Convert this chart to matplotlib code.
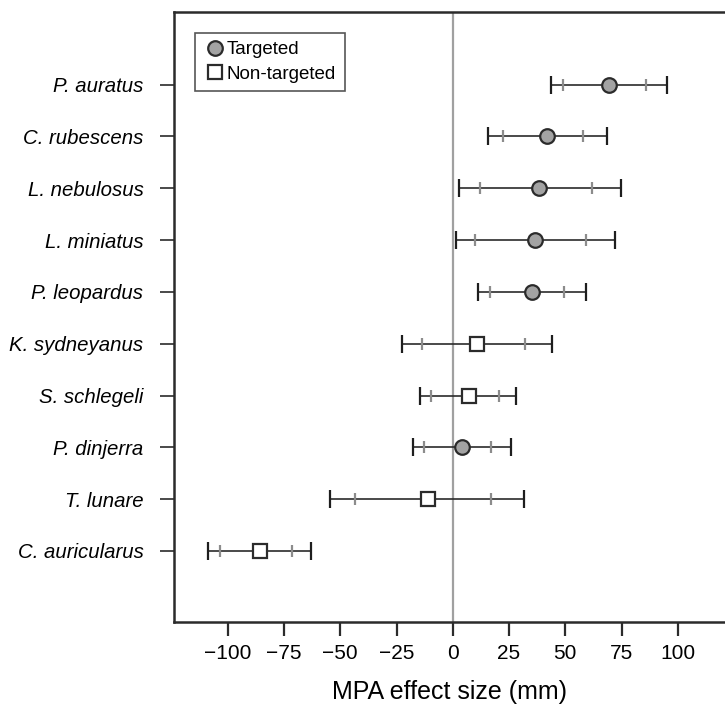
import numpy as np
import matplotlib
matplotlib.use("Agg")
import matplotlib.pyplot as plt
from matplotlib.lines import Line2D

plt.rcParams['font.family'] = ['Liberation Sans', 'DejaVu Sans']

species = ["P. auratus", "C. rubescens", "L. nebulosus", "L. miniatus", "P. leopardus",
           "K. sydneyanus", "S. schlegeli", "P. dinjerra", "T. lunare", "C. auricularus"]
targeted = [True, True, True, True, True, False, False, True, False, False]
effect = [69.6, 41.9, 38.4, 36.6, 35.4, 10.8, 7.2, 4.0, -10.9, -85.7]
outer_lo = [43.7, 15.7, 2.8, 1.3, 11.1, -22.4, -14.6, -17.6, -54.4, -108.8]
outer_hi = [95.2, 68.7, 74.7, 72.0, 59.1, 44.1, 28.0, 25.9, 31.8, -63.0]
inner_lo = [49.0, 22.4, 12.1, 9.9, 16.6, -13.6, -9.6, -12.8, -43.5, -103.5]
inner_hi = [85.9, 57.9, 61.9, 59.1, 49.5, 32.1, 20.6, 17.0, 16.9, -71.3]

dark = "#2b2b2b"
grey_fill = "#a3a3a3"
tick_grey = "#8c8c8c"

fig = plt.figure(figsize=(7.25, 7.07), dpi=100)
ax = fig.add_axes([174/725, 1-622/707, (725-174)/725, (622-12)/707])

ypos = np.arange(len(species), 0, -1)

ax.axvline(0, color="#a0a0a0", lw=1.6, zorder=1)

for i, y in enumerate(ypos):
    ax.plot([outer_lo[i], outer_hi[i]], [y, y], color=dark, lw=1.2, zorder=2)
    ax.plot([outer_lo[i], outer_hi[i]], [y, y], ls="none", marker="|",
            ms=13, mew=1.6, color="#1e1e1e", zorder=3)
    ax.plot([inner_lo[i], inner_hi[i]], [y, y], ls="none", marker="|",
            ms=9, mew=1.6, color=tick_grey, zorder=3)
    if targeted[i]:
        ax.plot(effect[i], y, marker="o", ms=10.5, mfc=grey_fill, mec=dark, mew=1.6, zorder=4)
    else:
        ax.plot(effect[i], y, marker="s", ms=10.5, mfc="white", mec=dark, mew=1.6, zorder=4)

ax.set_xlim(-123.9, 121.0)
ax.set_ylim(-0.37, 11.4)
ax.set_xticks([-100, -75, -50, -25, 0, 25, 50, 75, 100])
ax.set_yticks(ypos)
ax.set_yticklabels(species, fontstyle="italic", fontsize=14.7)
ax.tick_params(axis="x", direction="out", length=10, width=1.6, color=dark,
               labelsize=15, pad=6)
ax.tick_params(axis="y", direction="out", length=10, width=1.2, color=dark, pad=12)
ax.set_xlabel("MPA effect size (mm)", fontsize=18, labelpad=12)

ax.spines["right"].set_visible(False)
for s in ["left", "top", "bottom"]:
    ax.spines[s].set_linewidth(1.8)
    ax.spines[s].set_color(dark)

handles = [
    Line2D([], [], ls="none", marker="o", ms=10.5, mfc=grey_fill, mec=dark, mew=1.6, label="Targeted"),
    Line2D([], [], ls="none", marker="s", ms=10.5, mfc="white", mec=dark, mew=1.6, label="Non-targeted"),
]
leg = ax.legend(handles=handles, loc="upper left", bbox_to_anchor=(0.038, 0.966),
                fontsize=13.5, frameon=True, fancybox=False, handletextpad=0.05,
                handlelength=1.2, borderpad=0.45, labelspacing=0.4, borderaxespad=0)
leg.get_frame().set_edgecolor(dark)
leg.get_frame().set_linewidth(1.2)

fig.savefig("out.png", dpi=100)
